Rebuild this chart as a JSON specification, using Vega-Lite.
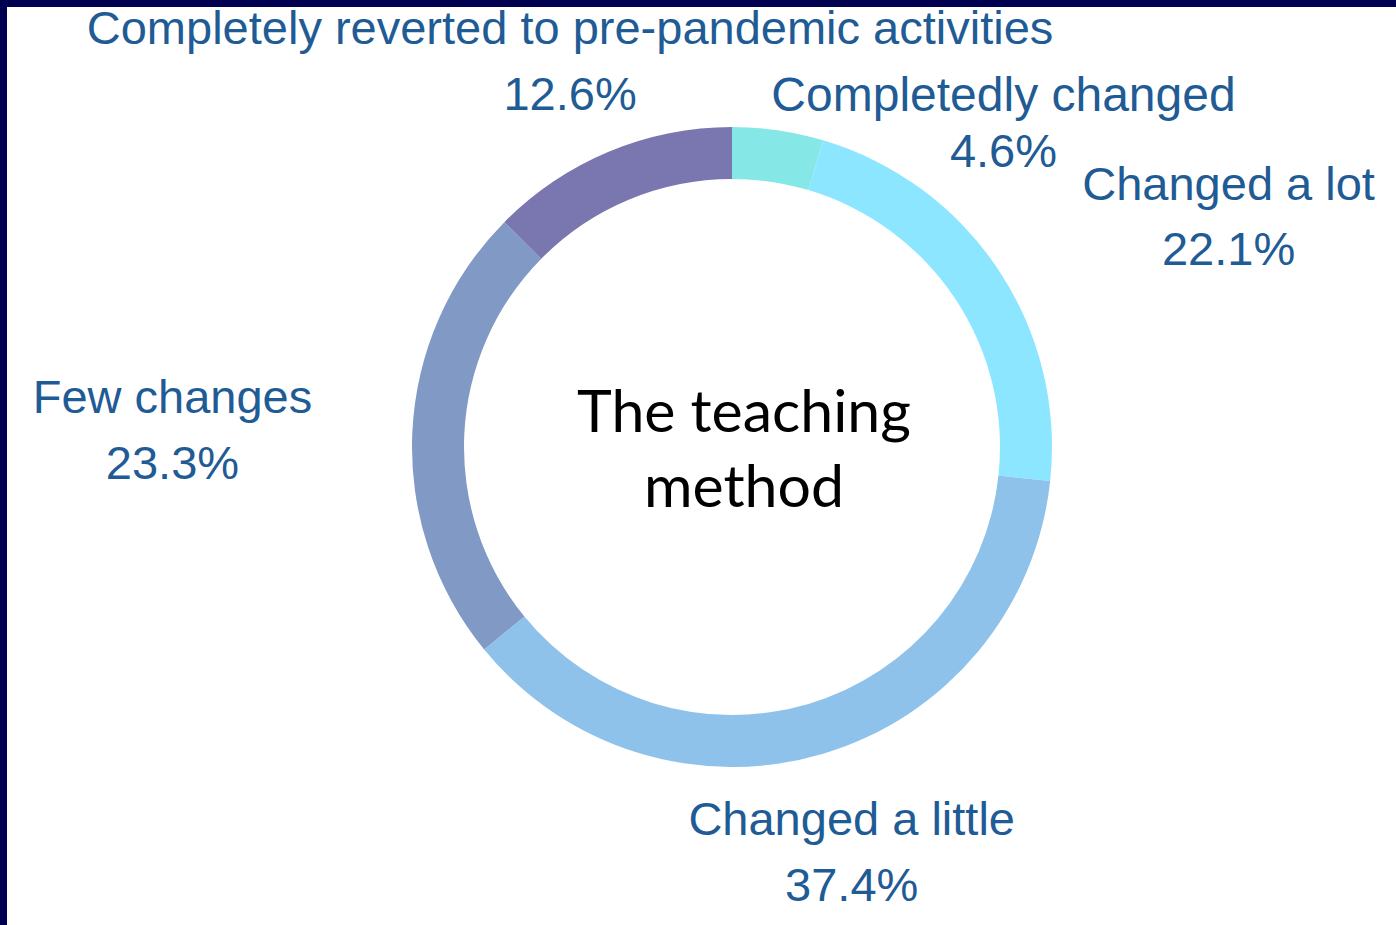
{
  "$schema": "https://vega.github.io/schema/vega-lite/v6.json",
  "width": 1389,
  "height": 918,
  "autosize": {"type": "none"},
  "padding": {"left": 7, "top": 7, "right": 0, "bottom": 0},
  "background": "#000050",
  "config": {"view": {"fill": "white", "stroke": null}},
  "data": {
    "values": [
      {"category": "Completedly changed", "share": 0.046, "rank": 1},
      {"category": "Changed a lot", "share": 0.221, "rank": 2},
      {"category": "Changed a little", "share": 0.374, "rank": 3},
      {"category": "Few changes", "share": 0.233, "rank": 4},
      {"category": "Completely reverted to pre-pandemic activities", "share": 0.126, "rank": 5}
    ]
  },
  "encoding": {
    "x": {"datum": 0.52196, "type": "quantitative", "scale": {"domain": [0, 1], "nice": false, "zero": false}, "axis": null},
    "y": {"datum": 0.5207, "type": "quantitative", "scale": {"domain": [0, 1], "nice": false, "zero": false}, "axis": null}
  },
  "layer": [
    {
      "mark": {"type": "arc", "outerRadius": 320, "innerRadius": 268},
      "encoding": {
        "theta": {"field": "share", "type": "quantitative", "stack": true},
        "order": {"field": "rank", "type": "quantitative"},
        "color": {
          "field": "category",
          "type": "nominal",
          "scale": {
            "domain": ["Completedly changed", "Changed a lot", "Changed a little", "Few changes", "Completely reverted to pre-pandemic activities"],
            "range": ["#86e8e6", "#8de6ff", "#8ec2ea", "#8099c5", "#7a77b0"]
          },
          "legend": null
        }
      }
    },
    {
      "mark": {"type": "text", "radius": 420, "font": "Liberation Sans", "fontSize": 47, "fill": "#1f5b94", "align": "center", "baseline": "alphabetic", "dx": 0, "dy": -15},
      "encoding": {
        "theta": {"field": "share", "type": "quantitative", "stack": true},
        "order": {"field": "rank", "type": "quantitative"},
        "text": {"condition": {"test": "datum.rank == 3 || datum.rank == 5", "field": "category", "type": "nominal"}, "value": ""}
      }
    },
    {
      "mark": {"type": "text", "radius": 420, "font": "Liberation Sans", "fontSize": 47, "fill": "#1f5b94", "align": "center", "baseline": "alphabetic", "dx": 0, "dy": 51},
      "encoding": {
        "theta": {"field": "share", "type": "quantitative", "stack": true},
        "order": {"field": "rank", "type": "quantitative"},
        "text": {"condition": {"test": "datum.rank == 3 || datum.rank == 5", "field": "share", "type": "quantitative", "format": ".1%"}, "value": ""}
      }
    },
    {
      "mark": {"type": "text", "radius": 420, "font": "Liberation Sans", "fontSize": 47, "fill": "#1f5b94", "align": "center", "baseline": "alphabetic", "dx": 147, "dy": -14},
      "encoding": {
        "theta": {"field": "share", "type": "quantitative", "stack": true},
        "order": {"field": "rank", "type": "quantitative"},
        "text": {"condition": {"test": "datum.rank == 2", "field": "category", "type": "nominal"}, "value": ""}
      }
    },
    {
      "mark": {"type": "text", "radius": 420, "font": "Liberation Sans", "fontSize": 47, "fill": "#1f5b94", "align": "center", "baseline": "alphabetic", "dx": 147, "dy": 51},
      "encoding": {
        "theta": {"field": "share", "type": "quantitative", "stack": true},
        "order": {"field": "rank", "type": "quantitative"},
        "text": {"condition": {"test": "datum.rank == 2", "field": "share", "type": "quantitative", "format": ".1%"}, "value": ""}
      }
    },
    {
      "mark": {"type": "text", "radius": 420, "font": "Liberation Sans", "fontSize": 47, "fill": "#1f5b94", "align": "center", "baseline": "alphabetic", "dx": -140, "dy": -14},
      "encoding": {
        "theta": {"field": "share", "type": "quantitative", "stack": true},
        "order": {"field": "rank", "type": "quantitative"},
        "text": {"condition": {"test": "datum.rank == 4", "field": "category", "type": "nominal"}, "value": ""}
      }
    },
    {
      "mark": {"type": "text", "radius": 420, "font": "Liberation Sans", "fontSize": 47, "fill": "#1f5b94", "align": "center", "baseline": "alphabetic", "dx": -140, "dy": 52},
      "encoding": {
        "theta": {"field": "share", "type": "quantitative", "stack": true},
        "order": {"field": "rank", "type": "quantitative"},
        "text": {"condition": {"test": "datum.rank == 4", "field": "share", "type": "quantitative", "format": ".1%"}, "value": ""}
      }
    },
    {
      "mark": {"type": "text", "radius": 420, "font": "Liberation Sans", "fontSize": 48, "fill": "#1f5b94", "align": "center", "baseline": "alphabetic", "dx": 211, "dy": 80},
      "encoding": {
        "theta": {"field": "share", "type": "quantitative", "stack": true},
        "order": {"field": "rank", "type": "quantitative"},
        "text": {"condition": {"test": "datum.rank == 1", "field": "category", "type": "nominal"}, "value": ""}
      }
    },
    {
      "mark": {"type": "text", "radius": 420, "font": "Liberation Sans", "fontSize": 47, "fill": "#1f5b94", "align": "center", "baseline": "alphabetic", "dx": 211, "dy": 136},
      "encoding": {
        "theta": {"field": "share", "type": "quantitative", "stack": true},
        "order": {"field": "rank", "type": "quantitative"},
        "text": {"condition": {"test": "datum.rank == 1", "field": "share", "type": "quantitative", "format": ".1%"}, "value": ""}
      }
    },
    {
      "data": {"values": [{"label": "The teaching method"}]},
      "mark": {"type": "text", "font": "Lato", "fontSize": 59, "fill": "#000000", "align": "center", "baseline": "alphabetic", "dx": 12, "dy": -15, "lineHeight": 75},
      "encoding": {
        "text": {"value": ["The teaching", "method"]}
      }
    }
  ]
}
